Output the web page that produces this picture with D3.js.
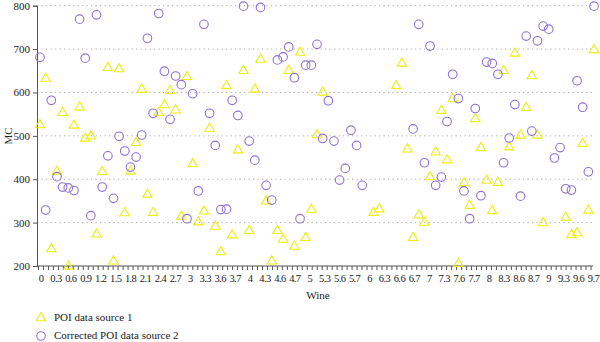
<!DOCTYPE html>
<html><head><meta charset="utf-8">
<script src="https://cdn.jsdelivr.net/npm/d3@7"></script>
<style>
html,body{margin:0;padding:0;background:#fff;}
svg{display:block;font-family:"Liberation Serif","Times New Roman",serif;}
</style></head>
<body><svg id="c" width="600" height="342"></svg>
<script>
// ---- data ----
const yTicks = [200, 300, 400, 500, 600, 700, 800];
const xTickLabels = ["0","0.3","0.6","0.9","1.2","1.5","1.8","2.1","2.4","2.7","3","3.3","3.6","3.7","4","4.3","4.6","4.7","5","5.3","5.6","5.7","6","6.3","6.6","6.7","7","7.3","7.6","7.7","8","8.3","8.6","8.7","9","9.3","9.6","9.7"];
const seriesNames = ["POI data source 1", "Corrected POI data source 2"];
const n = null;
const source1 = [525,632,239,418,553,199,524,566,494,499,273,417,657,211,654,322,418,484,607,365,323,553,571,604,559,314,636,435,301,326,517,291,232,615,271,467,650,281,607,676,349,211,281,261,650,245,692,265,330,502,600,
  n,n,n,n,n,n,n,n,323,331,n,n,615,667,469,265,317,300,405,462,558,444,585,205,391,339,539,472,397,327,392,650,474,690,501,565,638,501,299,n,n,n,312,272,276,482,328,698];
const source2 = [681,329,582,406,382,380,374,769,679,316,779,382,454,356,499,465,428,451,502,725,552,782,649,538,638,618,309,597,373,757,552,478,330,331,582,547,799,488,444,796,386,352,675,682,705,634,309,663,663,711,494,581,488,398,425,513,478,386,
  n,n,n,n,n,n,n,n,516,757,438,707,386,405,533,642,586,373,309,563,362,670,667,642,438,495,572,361,730,511,719,753,746,449,473,378,375,627,566,417,799];
const axisTickCount = 112;

// ---- chart ----
(function () {
const svg = d3.select("#c");
const pL = 37, pR = 594, pT = 5.7, pB = 266;
const y = d3.scaleLinear().domain([200, 800]).range([pB, pT]);
const xPts = d3.scalePoint().domain(d3.range(source1.length)).range([40, 594]);
const xTicks = d3.scalePoint().domain(d3.range(axisTickCount)).range([38.5, 591]);

// gridlines
svg.append("g").selectAll("line").data(yTicks.slice(1)).join("line")
  .attr("x1", pL).attr("x2", pR)
  .attr("y1", d => y(d)).attr("y2", d => y(d))
  .attr("stroke", "#a8a8a8").attr("stroke-width", 1)
  .attr("stroke-dasharray", "1.2,3.3");

// y axis
const ya = svg.append("g").attr("transform", `translate(${pL},0)`)
  .call(d3.axisLeft(y).tickValues(yTicks).tickSize(4).tickPadding(3));
ya.select(".domain").attr("stroke", "#555");
ya.selectAll(".tick line").attr("stroke", "#555");
ya.selectAll("text").attr("font-size", 11).attr("fill", "#222").attr("font-family", "Liberation Serif");

// x axis
const xa = svg.append("g").attr("transform", `translate(0,${pB})`);
xa.append("line").attr("x1", pL).attr("x2", pR - 1).attr("y1", 0).attr("y2", 0).attr("stroke", "#555");
xa.selectAll("line.t").data(d3.range(axisTickCount)).join("line").attr("class", "t")
  .attr("x1", d => xTicks(d)).attr("x2", d => xTicks(d)).attr("y1", 0).attr("y2", 4)
  .attr("stroke", "#555");
xa.selectAll("text").data(xTickLabels).join("text")
  .attr("x", (d, i) => xTicks(i * 3) + 2.5).attr("y", 16)
  .attr("text-anchor", "middle").attr("font-size", 10.5).attr("letter-spacing", -0.6)
  .attr("fill", "#222")
  .text(d => d);

// axis titles
svg.append("text").attr("transform", "translate(12,136) rotate(-90)")
  .attr("text-anchor", "middle").attr("font-size", 11).attr("fill", "#222").text("MC");
svg.append("text").attr("x", 318).attr("y", 299)
  .attr("text-anchor", "middle").attr("font-size", 11).attr("fill", "#222").text("Wine");

const triColor = "#eeee10", cirColor = "#9070d2";
const tri = d3.symbol(d3.symbolTriangle, 38);

// series 1: triangles
svg.append("g").selectAll("path")
  .data(source1.map((v, i) => ({i, v})).filter(d => d.v !== null)).join("path")
  .attr("d", tri)
  .attr("transform", d => `translate(${xPts(d.i)},${y(d.v)})`)
  .attr("fill", "none").attr("stroke", triColor).attr("stroke-width", 1.1);

// series 2: circles
svg.append("g").selectAll("circle")
  .data(source2.map((v, i) => ({i, v})).filter(d => d.v !== null)).join("circle")
  .attr("cx", d => xPts(d.i)).attr("cy", d => y(d.v)).attr("r", 4.3)
  .attr("fill", "none").attr("stroke", cirColor).attr("stroke-width", 1.1);

// legend
const lg = svg.append("g");
lg.append("path").attr("d", tri).attr("transform", "translate(41,318)")
  .attr("fill", "none").attr("stroke", triColor).attr("stroke-width", 1.1);
lg.append("circle").attr("cx", 41).attr("cy", 336).attr("r", 4.3)
  .attr("fill", "none").attr("stroke", cirColor).attr("stroke-width", 1.1);
lg.selectAll("text").data(seriesNames).join("text")
  .attr("x", 54).attr("y", (d, i) => 320.5 + i * 18.5)
  .attr("font-size", 11).attr("fill", "#222").text(d => d);
})();
</script></body></html>
